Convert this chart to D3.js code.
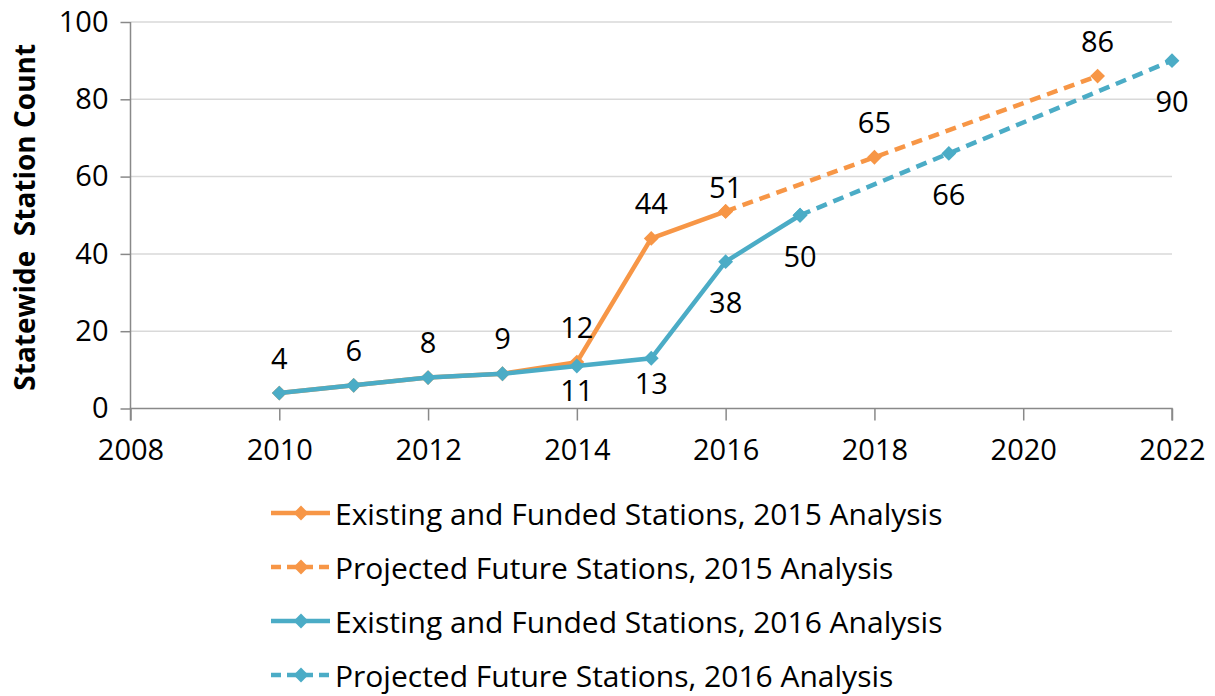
<!DOCTYPE html>
<html>
<head>
<meta charset="utf-8">
<script src="https://cdn.jsdelivr.net/npm/d3@7"></script>
<style>
  body { margin: 0; background: #fff; }
  text { font-family: "Open Sans", sans-serif; fill: #000; }
</style>
</head>
<body>
<svg id="chart" width="1215" height="696"></svg>
<script>
// Data.
const years15Existing = [2010, 2011, 2012, 2013, 2014, 2015, 2016];
const values15Existing = [4, 6, 8, 9, 12, 44, 51];
const years15Projected = [2016, 2018, 2021];
const values15Projected = [51, 65, 86];
const years16Existing = [2010, 2011, 2012, 2013, 2014, 2015, 2016, 2017];
const values16Existing = [4, 6, 8, 9, 11, 13, 38, 50];
const years16Projected = [2017, 2019, 2022];
const values16Projected = [50, 66, 90];
const xTicks = [2008, 2010, 2012, 2014, 2016, 2018, 2020, 2022];
const yTicks = [0, 20, 40, 60, 80, 100];
const legendLabels = [
  "Existing and Funded Stations, 2015 Analysis",
  "Projected Future Stations, 2015 Analysis",
  "Existing and Funded Stations, 2016 Analysis",
  "Projected Future Stations, 2016 Analysis"
];

const ORANGE = "#f79646", BLUE = "#4bacc6";
const FONT = 29;

let svg = d3.select("#chart");

let x = d3.scaleLinear().domain([2008, 2022]).range([130.5, 1172]);
let y = d3.scaleLinear().domain([0, 100]).range([408.5, 22]);

// gridlines
svg.append("g")
  .selectAll("line")
  .data(yTicks.filter(d => d > 0))
  .join("line")
    .attr("x1", x(2008)).attr("x2", x(2022))
    .attr("y1", d => y(d)).attr("y2", d => y(d))
    .attr("stroke", "#d9d9d9").attr("stroke-width", 1.5);

// y axis
let yAxis = svg.append("g")
  .attr("transform", `translate(${x(2008)},0)`)
  .call(d3.axisLeft(y).tickValues(yTicks).tickSize(10).tickPadding(12));
// x axis
let xAxis = svg.append("g")
  .attr("transform", `translate(0,${y(0)})`)
  .call(d3.axisBottom(x).tickValues(xTicks).tickFormat(d3.format("d")).tickSize(12).tickPadding(19));

[yAxis, xAxis].forEach(a => {
  a.select(".domain").attr("stroke", "#898989").attr("stroke-width", 1.5);
  a.selectAll(".tick line").attr("stroke", "#898989").attr("stroke-width", 1.5);
  a.selectAll(".tick text")
    .attr("font-family", '"Open Sans", sans-serif')
    .attr("font-size", FONT)
    .attr("fill", "#000");
});
xAxis.select(".domain").attr("d", `M${x(2008)},12V0H${x(2022)}V12`);
yAxis.select(".domain").attr("d", `M0,${y(0)}H0V${y(100)}`);

// y axis title
svg.append("text")
  .attr("transform", `translate(24,${(y(0) + y(100)) / 2 + 2}) rotate(-90)`)
  .attr("text-anchor", "middle")
  .attr("dominant-baseline", "central")
  .attr("font-size", 28)
  .attr("font-weight", "bold")
  .attr("xml:space", "preserve")
  .text("Statewide  Station Count");

const series = [
  { xs: years15Existing, ys: values15Existing, color: ORANGE, dash: null },
  { xs: years15Projected, ys: values15Projected, color: ORANGE, dash: "11,7" },
  { xs: years16Existing, ys: values16Existing, color: BLUE, dash: null },
  { xs: years16Projected, ys: values16Projected, color: BLUE, dash: "11,7" }
];

let line = d3.line().x(d => x(d[0])).y(d => y(d[1]));
let diamond = d3.symbol().type(d3.symbolDiamond2).size(140);

series.forEach(s => {
  let pts = d3.zip(s.xs, s.ys);
  svg.append("path")
    .attr("d", line(pts))
    .attr("fill", "none")
    .attr("stroke", s.color)
    .attr("stroke-width", 4.5)
    .attr("stroke-dasharray", s.dash);
  svg.append("g")
    .selectAll("path")
    .data(pts)
    .join("path")
      .attr("transform", d => `translate(${x(d[0])},${y(d[1])})`)
      .attr("d", diamond)
      .attr("fill", s.color);
}); // series

// data labels: 2015 analysis above its points, 2016 analysis below (where it differs)
let labels15 = d3.zip(years15Existing.concat(years15Projected.slice(1)),
                      values15Existing.concat(values15Projected.slice(1)));
let labels16 = d3.zip(years16Existing.concat(years16Projected.slice(1)),
                      values16Existing.concat(values16Projected.slice(1)))
  .filter(d => d[0] >= 2014);

svg.append("g")
  .selectAll("text")
  .data(labels15)
  .join("text")
    .attr("x", d => x(d[0]))
    .attr("y", d => y(d[1]) - (d[0] == 2016 ? 25 : 36))
    .attr("text-anchor", "middle")
    .attr("dominant-baseline", "central")
    .attr("font-size", FONT)
    .text(d => d[1]);

svg.append("g")
  .selectAll("text")
  .data(labels16)
  .join("text")
    .attr("x", d => x(d[0]))
    .attr("y", d => y(d[1]) + (d[0] <= 2015 ? 24 : 40))
    .attr("text-anchor", "middle")
    .attr("dominant-baseline", "central")
    .attr("font-size", FONT)
    .text(d => d[1]);

// legend
let legend = svg.append("g").attr("transform", "translate(271,513)");
let rows = legend.selectAll("g")
  .data(series)
  .join("g")
    .attr("transform", (d, i) => `translate(0,${i * 54})`);
rows.append("line")
  .attr("x1", 0).attr("x2", 59)
  .attr("stroke", d => d.color)
  .attr("stroke-width", 4.5)
  .attr("stroke-dasharray", d => d.dash ? "10,6" : null);
rows.append("path")
  .attr("transform", "translate(30,0)")
  .attr("d", diamond)
  .attr("fill", d => d.color);
rows.append("text")
  .attr("x", 64)
  .attr("dominant-baseline", "central")
  .attr("font-size", 30)
  .text((d, i) => legendLabels[i]);
</script>
</body>
</html>
